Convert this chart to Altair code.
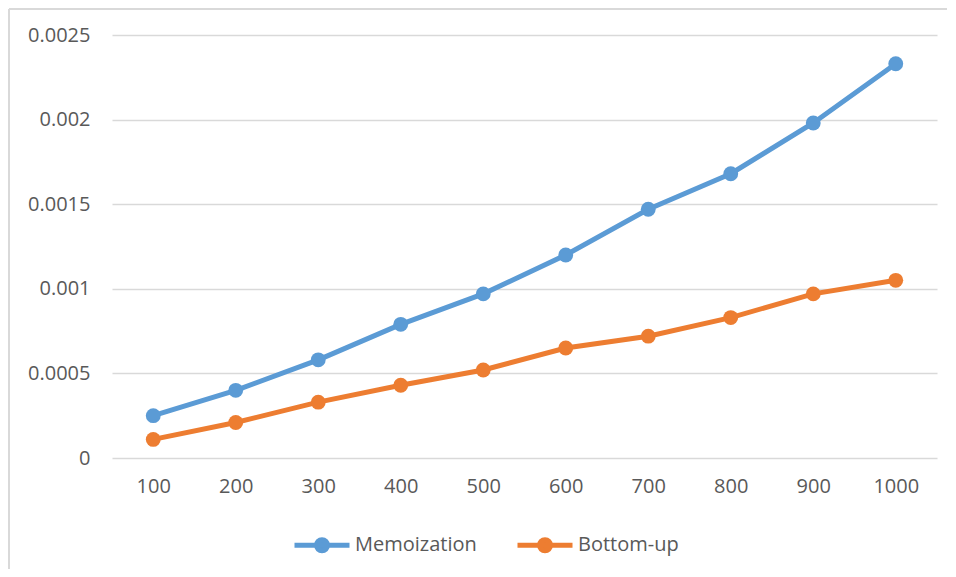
import altair as alt
import pandas as pd

sizes = ["100", "200", "300", "400", "500", "600", "700", "800", "900", "1000"]
memoization = [0.00025, 0.00040, 0.00058, 0.00079, 0.00097, 0.00120, 0.00147, 0.00168, 0.00198, 0.00233]
bottom_up = [0.00011, 0.00021, 0.00033, 0.00043, 0.00052, 0.00065, 0.00072, 0.00083, 0.00097, 0.00105]
series_names = ["Memoization", "Bottom-up"]
y_ticks = [0, 0.0005, 0.001, 0.0015, 0.002, 0.0025]

rows = []
for i, s in enumerate(sizes):
    rows.append({"n": s, "series": series_names[0], "time": memoization[i]})
    rows.append({"n": s, "series": series_names[1], "time": bottom_up[i]})
df = pd.DataFrame(rows)

FONT = "Open Sans"
GREY = "#595959"
GRID = "#d9d9d9"
COLORS = ["#5B9BD5", "#ED7D31"]

color = alt.Color(
    "series:N",
    sort=series_names,
    scale=alt.Scale(domain=series_names, range=COLORS),
    legend=alt.Legend(
        title=None,
        orient="none",
        direction="horizontal",
        legendX=180,
        legendY=480,
        symbolType="M-1,0L1,0M-0.2,0A0.2,0.2 0 1,1 0.2,0A0.2,0.2 0 1,1 -0.2,0Z",
        symbolSize=3025,
        symbolStrokeWidth=5,
        labelFont=FONT,
        labelFontSize=20,
        labelColor=GREY,
        labelOffset=3,
        columnPadding=30,
    ),
)

x = alt.X(
    "n:O",
    sort=sizes,
    scale=alt.Scale(padding=0.5),
    axis=alt.Axis(
        title=None, labelAngle=0, grid=False, domain=False, ticks=False, tickSize=0,
        labelFont=FONT, labelFontSize=20, labelColor=GREY,
        labelPadding=28, labelBaseline="middle",
    ),
)
y = alt.Y(
    "time:Q",
    scale=alt.Scale(domain=[0, 0.0025], nice=False),
    axis=alt.Axis(
        title=None, values=y_ticks, format=".4~f", domain=False, ticks=False, tickSize=0,
        grid=True, gridColor=GRID, gridWidth=1.4,
        labelFont=FONT, labelFontSize=20, labelColor=GREY, labelPadding=22,
    ),
)

lines = alt.Chart(df).mark_line(strokeWidth=5).encode(x=x, y=y, color=color)
points = alt.Chart(df).mark_point(filled=True, size=220, opacity=1).encode(
    x=x, y=y,
    color=alt.Color("series:N", sort=series_names,
                    scale=alt.Scale(domain=series_names, range=COLORS), legend=None),
)

border_left = alt.Chart(df).mark_rule(color=GRID, strokeWidth=1.5).encode(
    x=alt.value(-103), y=alt.value(-26), y2=alt.value(560)
)
border_top = alt.Chart(df).mark_rule(color=GRID, strokeWidth=1.5).encode(
    x=alt.value(-103), x2=alt.value(860), y=alt.value(-26)
)

chart = alt.layer(border_left, border_top, lines, points).properties(
    width=825,
    height=423,
    padding={"left": 104, "top": 27, "right": 10, "bottom": 111},
    autosize=alt.AutoSizeParams(type="none"),
    background="white",
).configure_view(stroke=None)

chart.save("out.html", embed_options={"renderer": "svg", "actions": False})
